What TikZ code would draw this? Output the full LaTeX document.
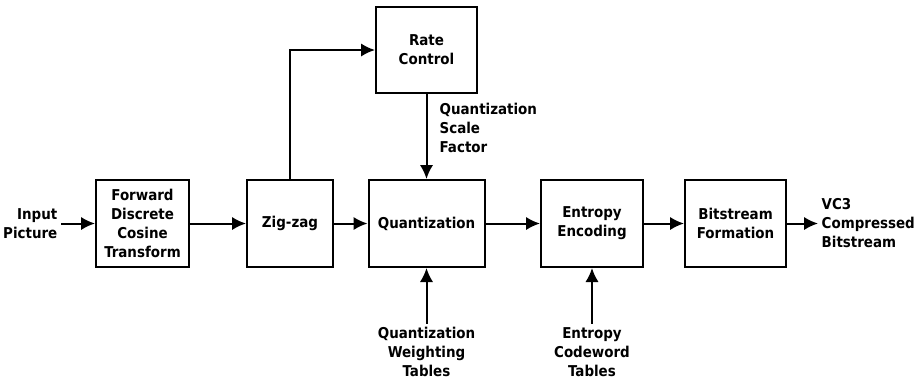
\documentclass[tikz,border=0pt]{standalone}
\usepackage{fontspec}
\setmainfont{DejaVu Sans Condensed}
\usetikzlibrary{arrows.meta}
\begin{document}
\begin{tikzpicture}[>={Latex[length=10.5pt,width=10pt]}, x=0.75pt, y=-0.75pt, line width=1.5pt,
    font=\bfseries\fontsize{11.2}{14.25}\selectfont,
    blk/.style={draw, align=center, minimum height=65.25pt, inner sep=2pt},
    lbl/.style={align=center, inner sep=2pt}]
                \useasboundingbox (0,0) rectangle (922,379);
                \node[blk, minimum width=69.75pt] (fdct) at (142.5,223.5) {Forward\\Discrete\\Cosine\\Transform};
                \node[blk, minimum width=64.5pt] (zigzag) at (290,223.5) {Zig-zag};
                \node[blk, minimum width=87pt] (quant) at (426.5,223.5) {Quantization};
                \node[blk, minimum width=75.75pt, minimum height=64.5pt] (rate) at (426.5,50) {Rate\\Control};
                \node[blk, minimum width=76.5pt] (entropy) at (592,223.5) {Entropy\\Encoding};
                \node[blk, minimum width=75.75pt] (bitstream) at (735.5,223.5) {Bitstream\\Formation};
                \node[lbl, align=right, anchor=east] (input) at (61,223.5) {Input\\Picture};
                \node[lbl, align=left, anchor=west] (output) at (818,223.5) {VC3\\Compressed\\Bitstream};
                \node[lbl, align=left, anchor=west] (qsf) at (436,128) {Quantization\\Scale\\Factor};
                \node[lbl] (qwt) at (426.5,352) {Quantization\\Weighting\\Tables};
                \node[lbl] (ect) at (592,352) {Entropy\\Codeword\\Tables};
                \draw[->] (input) -- (fdct);
                \draw[->] (fdct) -- (zigzag);
                \draw[->] (zigzag) -- (quant);
                \draw[->] (quant) -- (entropy);
                \draw[->] (entropy) -- (bitstream);
                \draw[->] (bitstream) -- (output);
                \draw[->] (zigzag.north) |- (rate.west);
                \draw[->] (rate) -- (quant);
                \draw[->] (qwt) -- (quant);
                \draw[->] (ect) -- (entropy);
            \end{tikzpicture}
\end{document}
